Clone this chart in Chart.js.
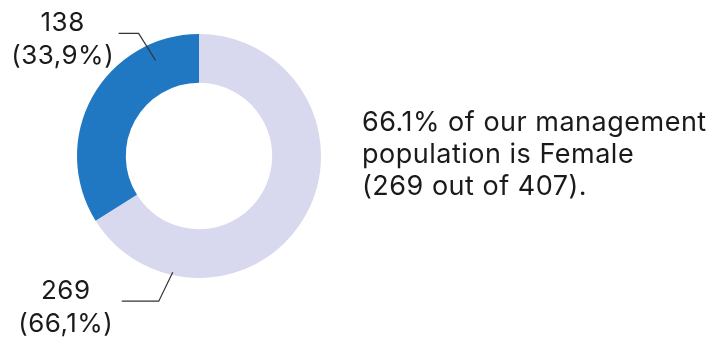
<!DOCTYPE html>
<html>
<head>
<meta charset="utf-8">
<script src="https://cdn.jsdelivr.net/npm/chart.js"></script>
<style>
  html, body { margin: 0; padding: 0; background: #fff; }
  #wrap { position: relative; width: 713px; height: 338px; overflow: hidden; }
  #note { position: absolute; left: 362px; top: 106px; font-family: Inter, sans-serif;
          font-size: 27px; line-height: 32px; letter-spacing: 0.5px; color: #1a1a1a; white-space: nowrap; }
</style>
</head>
<body>
<div id="wrap">
  <canvas id="c" width="713" height="338"></canvas>
  <div id="note">66.1% of our management<br>population is Female<br>(269 out of 407).</div>
</div>
<script>
const categories = ["Female", "Male"];
const counts = [269, 138];
const colors = ["#d8d8ee", "#1f78c1"];

// leader line placement per slice: where on the arc (angle fraction, radius fraction),
// elbow offset and horizontal run
const leaders = [
  { t: 0.81, r: 0.94, ex: -14, ey: 29, run: 37 },
  { t: 0.80, r: 0.65, ex: -17, ey: -27, run: 20 }
];

const total = counts.reduce((a, b) => a + b, 0);
const pct = v => (v / total * 100).toFixed(1).replace(".", ",") + "%";

const labelPlugin = {
  id: "leaderLabels",
  afterDatasetsDraw(chart) {
    const ctx = chart.ctx;
    const arcs = chart.getDatasetMeta(0).data;
    ctx.save();
    arcs.forEach((arc, i) => {
      const L = leaders[i];
      const a = arc.startAngle + (arc.endAngle - arc.startAngle) * L.t;
      const r = arc.innerRadius + (arc.outerRadius - arc.innerRadius) * L.r;
      const px = arc.x + Math.cos(a) * r;
      const py = arc.y + Math.sin(a) * r;
      const bx = px + L.ex, by = py + L.ey;
      const hx = bx - L.run;
      ctx.strokeStyle = "#333";
      ctx.lineWidth = 1.2;
      ctx.beginPath();
      ctx.moveTo(px, py);
      ctx.lineTo(bx, by);
      ctx.lineTo(hx, by);
      ctx.stroke();
      ctx.fillStyle = "#1a1a1a";
      ctx.font = "26px Inter, sans-serif";
      ctx.letterSpacing = "0.5px";
      ctx.textAlign = "center";
      ctx.textBaseline = "alphabetic";
      const cx = hx - 56;
      ctx.fillText(String(counts[i]), cx, by - 2);
      ctx.fillText("(" + pct(counts[i]) + ")", cx, by + 31);
    });
    ctx.restore();
  }
};

new Chart(document.getElementById("c"), {
  type: "doughnut",
  data: {
    labels: categories,
    datasets: [{ data: counts, backgroundColor: colors, borderWidth: 0 }]
  },
  options: {
    responsive: false,
    animation: false,
    cutout: "60%",
    layout: { padding: { left: 77, right: 392, top: 34, bottom: 60 } },
    plugins: { legend: { display: false }, tooltip: { enabled: false } }
  },
  plugins: [labelPlugin]
});
</script>
</body>
</html>
